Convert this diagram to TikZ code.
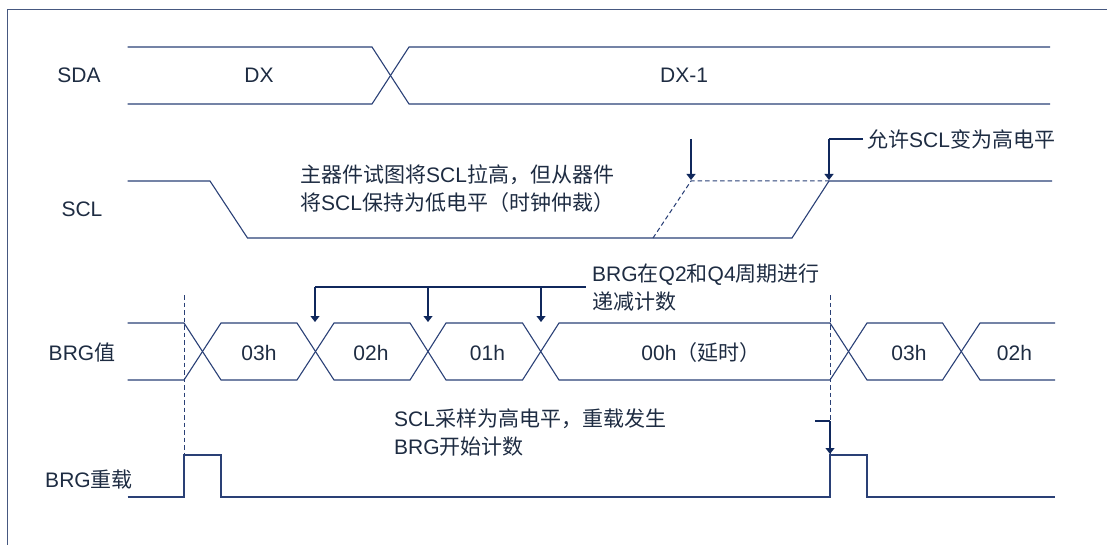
\documentclass[tikz,border=0pt]{standalone}
\usepackage{fontspec}
\setmainfont{Liberation Sans}
\newfontfamily\cjk{Noto Sans CJK SC}
\newcommand\zh[1]{{\cjk #1}}
\usetikzlibrary{arrows.meta}
\definecolor{lineblue}{RGB}{42,64,118}
\definecolor{arrowblue}{RGB}{16,40,92}
\definecolor{txt}{RGB}{30,44,66}
\definecolor{framec}{RGB}{70,88,128}
\begin{document}
\begin{tikzpicture}[x=1pt,y=-1pt,
  wave/.style={draw=lineblue, line width=1.1pt, line join=miter},
  guide/.style={draw=lineblue, line width=1pt, dash pattern=on 4.5pt off 3pt},
  ptr/.style={draw=arrowblue, line width=1.1pt, -{Triangle[width=9pt,length=6pt]}},
  ptrline/.style={draw=arrowblue, line width=1.1pt},
  lbl/.style={anchor=base, inner sep=0, text=txt, font=\fontsize{21}{25}\selectfont},
  lbll/.style={lbl, anchor=base west}]
\useasboundingbox (0,0) rectangle (1107,545);
% frame
\draw[framec, line width=1pt] (7,560) -- (7,9.5) -- (1120,9.5);

% ---------- SDA ----------
\draw[wave] (127.5,47) -- (372,47) -- (409,104) -- (1050,104);
\draw[wave] (127.5,104) -- (372,104) -- (409,47) -- (1050,47);
\node[lbl] (sda) at (79,82.5) {SDA};
\node[lbl] (dx) at (259,82.5) {DX};
\node[lbl] (dx1) at (684,82.5) {DX-1};

% ---------- SCL ----------
\draw[wave] (127.5,181) -- (210,181) -- (247.5,238) -- (792,238) -- (829,181) -- (1052,181);
\draw[guide] (653,238) -- (691,181) -- (829,181);
\node[lbl] (scl) at (82,216.5) {SCL};
\node[lbll] (t1a) at (300,182.5) {\zh{主器件试图将}SCL\zh{拉高，但从器件}};
\node[lbll] (t1b) at (300,210.5) {\zh{将}SCL\zh{保持为低电平（时钟仲裁）}};
\coordinate (a1s) at (691,139);
\coordinate (a1e) at (691,180);
\coordinate (a2k) at (829,139);
\coordinate (a2e) at (829,180);
\node[lbll] (t2) at (867,147.5) {\zh{允许}SCL\zh{变为高电平}};
\draw[ptr] (a1s) -- (a1e);
\draw[ptrline] (t2.west |- a2k) ++(-4,0) coordinate (a2s) -- (a2k);
\draw[ptr] (a2k) -- (a2e);

% ---------- BRG value ----------
\draw[wave] (127.5,323) -- (184,323) -- (221,380) -- (297,380) -- (334,323) -- (410,323) -- (446,380) -- (522.5,380) -- (559,323) -- (830,323) -- (867,380) -- (942.5,380) -- (980,323) -- (1055,323);
\draw[wave] (127.5,380) -- (184,380) -- (221,323) -- (297,323) -- (334,380) -- (410,380) -- (446,323) -- (522.5,323) -- (559,380) -- (830,380) -- (867,323) -- (942.5,323) -- (980,380) -- (1055,380);
\node[lbl] (brg) at (82,360.5) {BRG\zh{值}};
\node[lbl] (v3) at (259,360.5) {03h};
\node[lbl] (v2) at (371,360.5) {02h};
\node[lbl] (v1) at (487.5,360.5) {01h};
\node[lbl] (v0) at (701,360.5) {00h\zh{（延时）}};
\node[lbl] (v3b) at (909,360.5) {03h};
\node[lbl] (v2b) at (1014.5,360.5) {02h};

% decrement arrows
\coordinate (d1) at (315,287);
\coordinate (d2) at (428,287);
\coordinate (d3) at (541,287);
\coordinate (dend) at (586,287);
\draw[ptrline] (d1) -- (dend);
\draw[ptr] (d1) -- ++(0,35);
\draw[ptr] (d2) -- ++(0,35);
\draw[ptr] (d3) -- ++(0,35);
\node[lbll] (t3a) at (592,281.5) {BRG\zh{在}Q2\zh{和}Q4\zh{周期进行}};
\node[lbll] (t3b) at (592,309.5) {\zh{递减计数}};

% ---------- BRG reload ----------
\draw[wave] (127.5,497) -- (184,497) -- (184,455) -- (221,455) -- (221,497) -- (830,497) -- (830,455) -- (867,455) -- (867,497) -- (1055,497);
\node[lbl] (rl) at (89,487.5) {BRG\zh{重载}};
\draw[guide] (184,295) -- (184,497);
\draw[guide] (830,295) -- (830,497);
\node[lbll] (t4a) at (394,426.5) {SCL\zh{采样为高电平，重载发生}};
\node[lbll] (t4b) at (394,454.5) {BRG\zh{开始计数}};
\coordinate (r1) at (815,421);
\coordinate (r2) at (830,421);
\coordinate (r3) at (830,454);
\draw[ptrline] (r1) -- (r2);
\draw[ptr] (r2) -- (r3);
\end{tikzpicture}
\end{document}
